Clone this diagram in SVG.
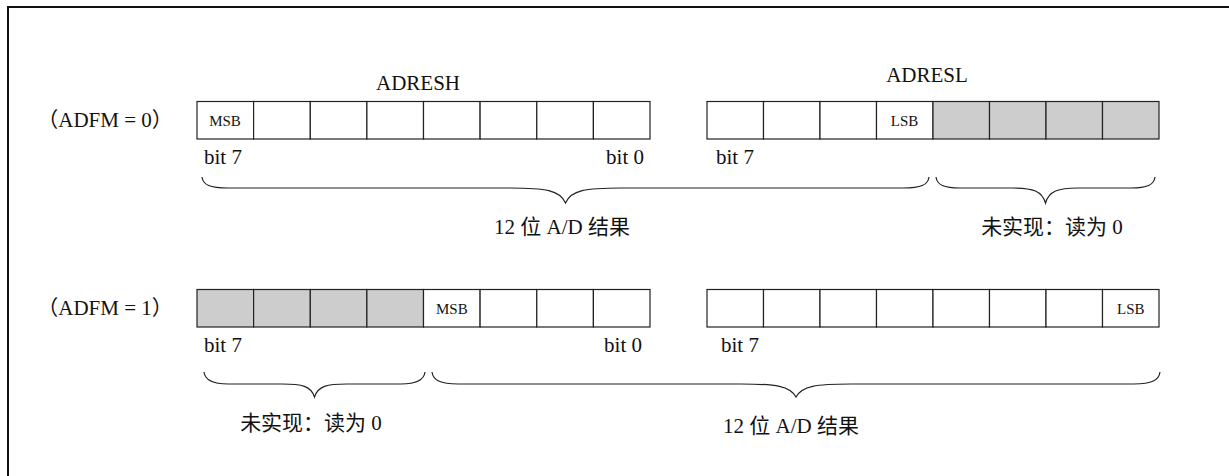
<svg xmlns="http://www.w3.org/2000/svg" width="1229" height="476" viewBox="0 0 1229 476">
<style>
.cell{fill:#fff;stroke:#222;stroke-width:1.2}
.na{fill:#cdcdcd}
.t{font-family:"Liberation Serif","Noto Sans CJK SC",serif;font-size:21px;fill:#111}
.s{font-size:15px}
.m{text-anchor:middle}
.e{text-anchor:end}
.brace{fill:none;stroke:#222;stroke-width:1.2}
</style>
<rect x="8" y="7" width="1240" height="490" fill="#fff" stroke="#111" stroke-width="2"/>

<g id="row0-label"><text class="t m" x="105" y="127">（ADFM = 0）</text></g>
<g id="adresh-title"><text class="t m" x="418" y="90">ADRESH</text></g>
<g id="adresl-title"><text class="t m" x="927" y="82">ADRESL</text></g>

<g id="row0-adresh">
<rect class="cell" x="197" y="101.5" width="56.6" height="37.5"/>
<rect class="cell" x="253.6" y="101.5" width="56.7" height="37.5"/>
<rect class="cell" x="310.3" y="101.5" width="56.6" height="37.5"/>
<rect class="cell" x="366.9" y="101.5" width="56.6" height="37.5"/>
<rect class="cell" x="423.5" y="101.5" width="56.6" height="37.5"/>
<rect class="cell" x="480.1" y="101.5" width="56.7" height="37.5"/>
<rect class="cell" x="536.8" y="101.5" width="56.6" height="37.5"/>
<rect class="cell" x="593.4" y="101.5" width="56.6" height="37.5"/>
<text class="t s m" x="225" y="126">MSB</text>
<text class="t" x="204" y="164">bit 7</text>
<text class="t e" x="644" y="164">bit 0</text>
</g>

<g id="row0-adresl">
<rect class="cell" x="707" y="101.5" width="56.5" height="37.5"/>
<rect class="cell" x="763.5" y="101.5" width="56.5" height="37.5"/>
<rect class="cell" x="820" y="101.5" width="56.5" height="37.5"/>
<rect class="cell" x="876.5" y="101.5" width="56.5" height="37.5"/>
<rect class="cell na" x="933" y="101.5" width="56.5" height="37.5"/>
<rect class="cell na" x="989.5" y="101.5" width="56.5" height="37.5"/>
<rect class="cell na" x="1046" y="101.5" width="56.5" height="37.5"/>
<rect class="cell na" x="1102.5" y="101.5" width="56.5" height="37.5"/>
<text class="t s m" x="904.5" y="126">LSB</text>
<text class="t" x="716" y="164">bit 7</text>
</g>

<g id="row1-label"><text class="t m" x="105" y="315">（ADFM = 1）</text></g>

<g id="row1-adresh">
<rect class="cell na" x="197" y="289.5" width="56.6" height="37.5"/>
<rect class="cell na" x="253.6" y="289.5" width="56.7" height="37.5"/>
<rect class="cell na" x="310.3" y="289.5" width="56.6" height="37.5"/>
<rect class="cell na" x="366.9" y="289.5" width="56.6" height="37.5"/>
<rect class="cell" x="423.5" y="289.5" width="56.6" height="37.5"/>
<rect class="cell" x="480.1" y="289.5" width="56.7" height="37.5"/>
<rect class="cell" x="536.8" y="289.5" width="56.6" height="37.5"/>
<rect class="cell" x="593.4" y="289.5" width="56.6" height="37.5"/>
<text class="t s m" x="451.8" y="314">MSB</text>
<text class="t" x="204" y="352">bit 7</text>
<text class="t e" x="642" y="352">bit 0</text>
</g>

<g id="row1-adresl">
<rect class="cell" x="707" y="289.5" width="56.5" height="37.5"/>
<rect class="cell" x="763.5" y="289.5" width="56.5" height="37.5"/>
<rect class="cell" x="820" y="289.5" width="56.5" height="37.5"/>
<rect class="cell" x="876.5" y="289.5" width="56.5" height="37.5"/>
<rect class="cell" x="933" y="289.5" width="56.5" height="37.5"/>
<rect class="cell" x="989.5" y="289.5" width="56.5" height="37.5"/>
<rect class="cell" x="1046" y="289.5" width="56.5" height="37.5"/>
<rect class="cell" x="1102.5" y="289.5" width="56.5" height="37.5"/>
<text class="t s m" x="1130.8" y="314">LSB</text>
<text class="t" x="721" y="352">bit 7</text>
</g>

<g id="braces">
<path class="brace" d="M202,177 C203,185 210,188 228,188 L510,188 C545,188 560,190 565.5,203 C571,190 586,188 621,188 L903,188 C921,188 928,185 929,177"/>
<path class="brace" d="M936,177 C937,185 944,188 960,188 L1013,188 C1033,188 1042,191 1045.5,203 C1049,191 1058,188 1078,188 L1131,188 C1147,188 1154,185 1155,177"/>
<path class="brace" d="M204,372 C205,380 212,384 228,384 L282,384 C302,384 311,386 314.5,397 C318,386 327,384 347,384 L401,384 C417,384 424,380 425,372"/>
<path class="brace" d="M432,372 C433,380 440,384 458,384 L741,384 C776,384 790,386 796,397 C802,386 816,384 851,384 L1134,384 C1152,384 1159,380 1160,372"/>
</g>

<g id="brace-labels">
<text class="t m" x="562" y="234">12 位 A/D 结果</text>
<text class="t m" x="1052" y="234">未实现：读为 0</text>
<text class="t m" x="311" y="430">未实现：读为 0</text>
<text class="t m" x="791" y="433">12 位 A/D 结果</text>
</g>
</svg>
